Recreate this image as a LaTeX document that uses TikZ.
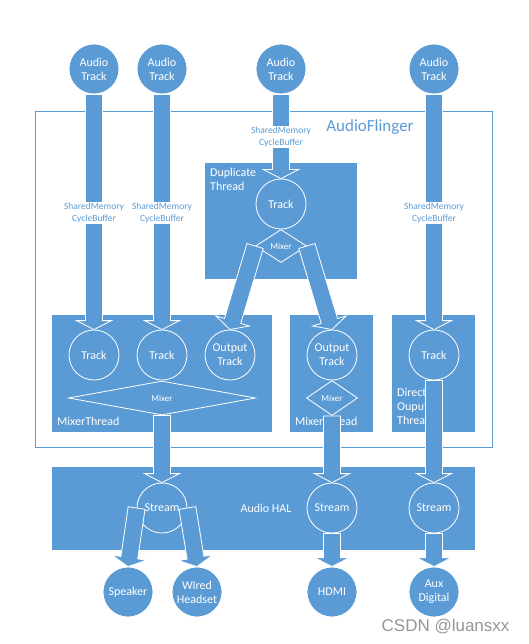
\documentclass[tikz,border=0pt]{standalone}
\usepackage{fontspec}
\setmainfont{Carlito}
\newfontfamily\wmfont{Liberation Sans}
\usetikzlibrary{calc,shapes.geometric}
\definecolor{afblue}{RGB}{91,155,213}
\definecolor{wmgray}{RGB}{150,150,150}
\tikzset{
 circ/.style={circle, fill=afblue, draw=white, line width=0.8pt, minimum size=50pt, inner sep=0pt, text=white, font=\fontsize{12}{14}\selectfont, align=center},
 boxsty/.style={fill=afblue, draw=none, anchor=north west, inner sep=0pt},
 boxlbl/.style={text=white, font=\fontsize{12}{14}\selectfont, align=left, inner sep=0pt},
 dia/.style={diamond, fill=afblue, draw=white, line width=0.8pt, inner sep=0pt, text=white, font=\fontsize{9}{10}\selectfont},
 arrsty/.style={fill=afblue, draw=white, line width=0.8pt, line join=miter},
 shm/.style={fill=white, text=afblue, font=\fontsize{9.5}{12}\selectfont, align=center, inner sep=1pt},
}
\newcommand\blockarr[2]{%
  \path[arrsty] let \p1=(#1), \p2=(#2), \n1={atan2(\y2-\y1,\x2-\x1)}, \n2={veclen(\x2-\x1,\y2-\y1)} in
   [shift={(\p1)}, rotate=\n1] (0,-8.5) -- ({\n2-9},-8.5) -- ({\n2-9},-17.5) -- (\n2,0) -- ({\n2-9},17.5) -- ({\n2-9},8.5) -- (0,8.5) -- cycle;
}
\begin{document}
\begin{tikzpicture}[x=1pt,y=-1pt]
\useasboundingbox (0,0) rectangle (529,644);
% AudioFlinger frame
\node[draw=afblue, line width=1pt, minimum width=457pt, minimum height=336pt, anchor=north west, inner sep=0pt] (af) at (35,111) {};
% boxes
\node[boxsty, minimum width=152pt, minimum height=116pt] (dup) at (205,163) {};
\node[boxsty, minimum width=220pt, minimum height=117pt] (mt1) at (52,315) {};
\node[boxsty, minimum width=83pt, minimum height=117pt] (mt2) at (290,315) {};
\node[boxsty, minimum width=83pt, minimum height=117pt] (dot) at (392,315) {};
\node[boxsty, minimum width=423pt, minimum height=83pt] (hal) at (52,467) {};
% labels
\node[text=afblue, font=\fontsize{17}{20}\selectfont] (aflbl) at (370,127) {AudioFlinger};
\node[boxlbl, anchor=north west] (duplbl) at (210,168) {Duplicate\\Thread};
\node[boxlbl, anchor=west] (mt1lbl) at (57,421) {MixerThread};
\node[boxlbl, anchor=west] (mt2lbl) at (295,421) {MixerThread};
\node[boxlbl, anchor=west] (dotlbl) at (397,406) {Direct\\Ouput\\Thread};
\node[boxlbl] (hallbl) at (266,508) {Audio HAL};
% circles
\node[circ] (at1) at (94,69) {Audio\\Track};
\node[circ] (at2) at (162,69) {Audio\\Track};
\node[circ] (at3) at (281,69) {Audio\\Track};
\node[circ] (at4) at (434,69) {Audio\\Track};
\node[circ] (dtk) at (281,204) {Track};
\node[circ] (t1) at (94,355) {Track};
\node[circ] (t2) at (162,355) {Track};
\node[circ] (ot1) at (230,355) {Output\\Track};
\node[circ] (ot2) at (332,355) {Output\\Track};
\node[circ] (dtr) at (434,355) {Track};
\node[dia, minimum width=51pt, minimum height=33pt] (dmx) at (281,246) {Mixer};
\node[dia, minimum width=187pt, minimum height=34pt] (mx1) at (162,398) {Mixer};
\node[dia, minimum width=51pt, minimum height=35pt] (mx2) at (332,398) {Mixer};
\node[circ] (s1) at (162,508) {};
\node[circ] (s2) at (332,508) {Stream};
\node[circ] (s3) at (434,508) {Stream};
\node[circ] (spk) at (128,592) {Speaker};
\node[circ] (hs) at (197,592) {WIred\\Headset};
\node[circ] (hdmi) at (332,592) {HDMI};
\node[circ] (aux) at (434,592) {Aux\\Digital};
% arrows
\blockarr{at1.south}{t1.north}
\blockarr{at2.south}{t2.north}
\blockarr{at3.south}{dtk.north}
\blockarr{at4.south}{dtr.north}
\blockarr{dmx.west}{ot1.north}
\blockarr{dmx.east}{ot2.north}
\blockarr{mx1.south}{s1.north}
\blockarr{mx2.south}{s2.north}
\blockarr{dtr.south}{s3.north}
\blockarr{s1.west}{spk.north}
\blockarr{s1.east}{hs.north}
\blockarr{s2.south}{hdmi.north}
\blockarr{s3.south}{aux.north}
% shared memory labels
\node[shm] (sm1) at (94,213) {SharedMemory\\CycleBuffer};
\node[shm] (sm2) at (162,213) {SharedMemory\\CycleBuffer};
\node[shm] (sm3) at (281,137) {SharedMemory\\CycleBuffer};
\node[shm] (sm4) at (434,213) {SharedMemory\\CycleBuffer};
\node[text=white, font=\fontsize{12}{14}\selectfont] (s1lbl) at (s1) {Stream};
\node[text=wmgray, font=\wmfont\fontsize{17}{20}\selectfont, anchor=east] (wm) at (513,627) {CSDN @luansxx};
\end{tikzpicture}
\end{document}
